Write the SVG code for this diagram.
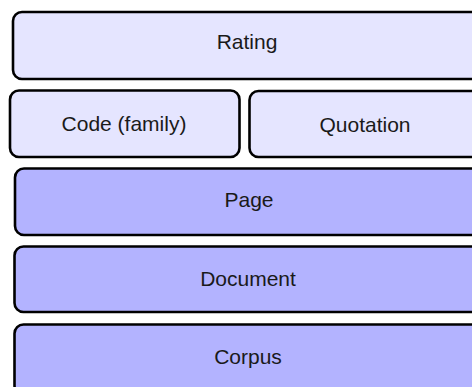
<svg xmlns="http://www.w3.org/2000/svg" width="472" height="387" viewBox="0 0 472 387">
<style>
rect{stroke:#000;stroke-width:2.6}
.l{fill:#e5e5ff}
.d{fill:#b3b3ff}
text{font-family:"Liberation Sans",Arial,sans-serif;font-size:21px;fill:#1a1a1a;text-anchor:middle}
</style>
<rect width="472" height="387" fill="#fff" style="stroke:none"/>
<g id="rating"><rect class="l" x="13" y="12" width="468" height="67" rx="9"/><text x="247" y="49">Rating</text></g>
<g id="code"><rect class="l" x="10" y="90.5" width="229.5" height="66.5" rx="9"/><text x="124" y="131">Code (family)</text></g>
<g id="quotation"><rect class="l" x="249.5" y="91" width="231" height="66" rx="9"/><text x="365" y="132">Quotation</text></g>
<g id="page"><rect class="d" x="15" y="168.5" width="468" height="66.5" rx="9"/><text x="249" y="207">Page</text></g>
<g id="document"><rect class="d" x="14.5" y="246.5" width="468" height="65.5" rx="9"/><text x="248" y="286">Document</text></g>
<g id="corpus"><rect class="d" x="14.5" y="324.5" width="468" height="70" rx="9"/><text x="248" y="364">Corpus</text></g>
<g id="connectors"/>
</svg>
